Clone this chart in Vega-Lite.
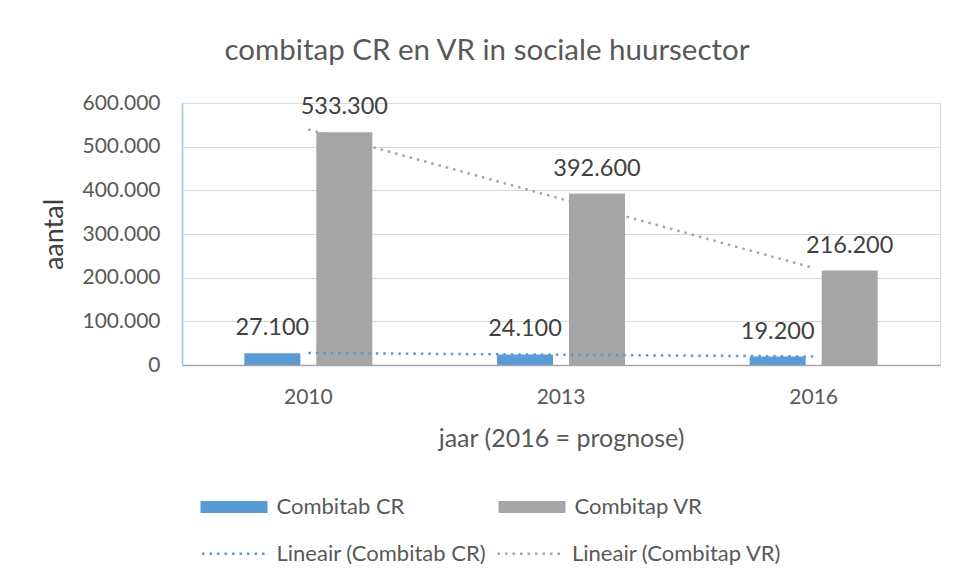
{
  "$schema": "https://vega.github.io/schema/vega-lite/v6.json",
  "width": 758,
  "height": 262,
  "autosize": {"type": "none"},
  "padding": {"left": 182, "top": 103, "right": 17, "bottom": 215},
  "background": "white",
  "config": {
    "font": "Lato",
    "locale": {"number": {"decimal": ",", "thousands": ".", "grouping": [3], "currency": ["€", ""]}},
    "view": {"stroke": "#d9d9d9", "strokeWidth": 1}
  },
  "title": {
    "text": "combitap CR en VR in sociale huursector",
    "fontSize": 29.5,
    "fontWeight": "normal",
    "color": "#595959",
    "anchor": "middle",
    "frame": "group",
    "dx": -74,
    "baseline": "alphabetic",
    "offset": 3
  },
  "datasets": {
    "bars": [
      {"year": "2010", "series": "Combitab CR", "value": 27100},
      {"year": "2010", "series": "Combitap VR", "value": 533300},
      {"year": "2013", "series": "Combitab CR", "value": 24100},
      {"year": "2013", "series": "Combitap VR", "value": 392600},
      {"year": "2016", "series": "Combitab CR", "value": 19200},
      {"year": "2016", "series": "Combitap VR", "value": 216200}
    ],
    "trend": [
      {"year": "2010", "trendline": "Lineair (Combitab CR)", "value": 27400},
      {"year": "2016", "trendline": "Lineair (Combitab CR)", "value": 19500},
      {"year": "2010", "trendline": "Lineair (Combitap VR)", "value": 539300},
      {"year": "2016", "trendline": "Lineair (Combitap VR)", "value": 222200}
    ]
  },
  "encoding": {
    "x": {
      "field": "year",
      "type": "nominal",
      "sort": ["2010", "2013", "2016"],
      "scale": {"paddingInner": 0.4935, "paddingOuter": 0.2467},
      "axis": {
        "title": "jaar (2016 = prognose)",
        "labelAngle": 0,
        "labelFontSize": 21,
        "labelColor": "#595959",
        "labelPadding": 21,
        "ticks": false,
        "tickSize": 0,
        "domainColor": "#a6a6a6",
        "domainWidth": 1.5,
        "titleFontSize": 25,
        "titleFontWeight": "normal",
        "titleColor": "#595959",
        "titlePadding": 19
      }
    },
    "y": {
      "field": "value",
      "type": "quantitative",
      "scale": {"domain": [0, 600000], "nice": false},
      "axis": {
        "title": "aantal",
        "values": [0, 100000, 200000, 300000, 400000, 500000, 600000],
        "format": ",.0f",
        "labelFontSize": 21,
        "labelColor": "#595959",
        "labelPadding": 22,
        "ticks": false,
        "tickSize": 0,
        "domainColor": "#9dc3e6",
        "domainWidth": 1.5,
        "gridColor": "#d9d9d9",
        "gridWidth": 1,
        "titleFontSize": 27,
        "titleFontWeight": "normal",
        "titleColor": "#404040",
        "titlePadding": 13
      }
    }
  },
  "layer": [
    {
      "data": {"name": "bars"},
      "mark": {"type": "bar"},
      "encoding": {
        "xOffset": {
          "field": "series",
          "type": "nominal",
          "sort": ["Combitab CR", "Combitap VR"],
          "scale": {"paddingInner": 0.222, "paddingOuter": 0}
        },
        "color": {
          "field": "series",
          "type": "nominal",
          "scale": {"domain": ["Combitab CR", "Combitap VR"], "range": ["#5b9bd5", "#a5a5a5"]},
          "legend": {
            "title": null,
            "orient": "none",
            "legendX": 37,
            "legendY": 389,
            "columns": 2,
            "direction": "horizontal",
            "padding": 0,
            "symbolSize": 900,
            "symbolType": "M-2.233,-0.4H2.233V0.4H-2.233Z",
            "symbolStrokeWidth": 0,
            "columnPadding": 93,
            "labelOffset": 27.5,
            "labelFontSize": 22,
            "labelLimit": 400,
            "labelColor": "#595959"
          }
        }
      }
    },
    {
      "data": {"name": "trend"},
      "mark": {"type": "line", "strokeWidth": 2.5, "strokeDash": [2.5, 5], "strokeCap": "butt"},
      "encoding": {
        "stroke": {
          "field": "trendline",
          "type": "nominal",
          "scale": {"domain": ["Lineair (Combitab CR)", "Lineair (Combitap VR)"], "range": ["#5b9bd5", "#a5a5a5"]},
          "legend": {
            "title": null,
            "orient": "none",
            "legendX": 37,
            "legendY": 434,
            "columns": 2,
            "direction": "horizontal",
            "padding": 0,
            "symbolSize": 900,
            "symbolType": "M-2.233,0H2.233",
            "symbolStrokeWidth": 2.5,
            "symbolDash": [2.5, 5],
            "columnPadding": 5.5,
            "labelOffset": 24.5,
            "labelFontSize": 22,
            "labelLimit": 400,
            "labelColor": "#595959"
          }
        }
      }
    },
    {
      "data": {"name": "bars"},
      "mark": {"type": "text", "baseline": "alphabetic", "dy": -18, "fontSize": 23.5, "color": "#404040"},
      "encoding": {
        "xOffset": {
          "field": "series",
          "type": "nominal",
          "sort": ["Combitab CR", "Combitap VR"]
        },
        "text": {"field": "value", "type": "quantitative", "format": ",.0f"}
      }
    }
  ]
}
